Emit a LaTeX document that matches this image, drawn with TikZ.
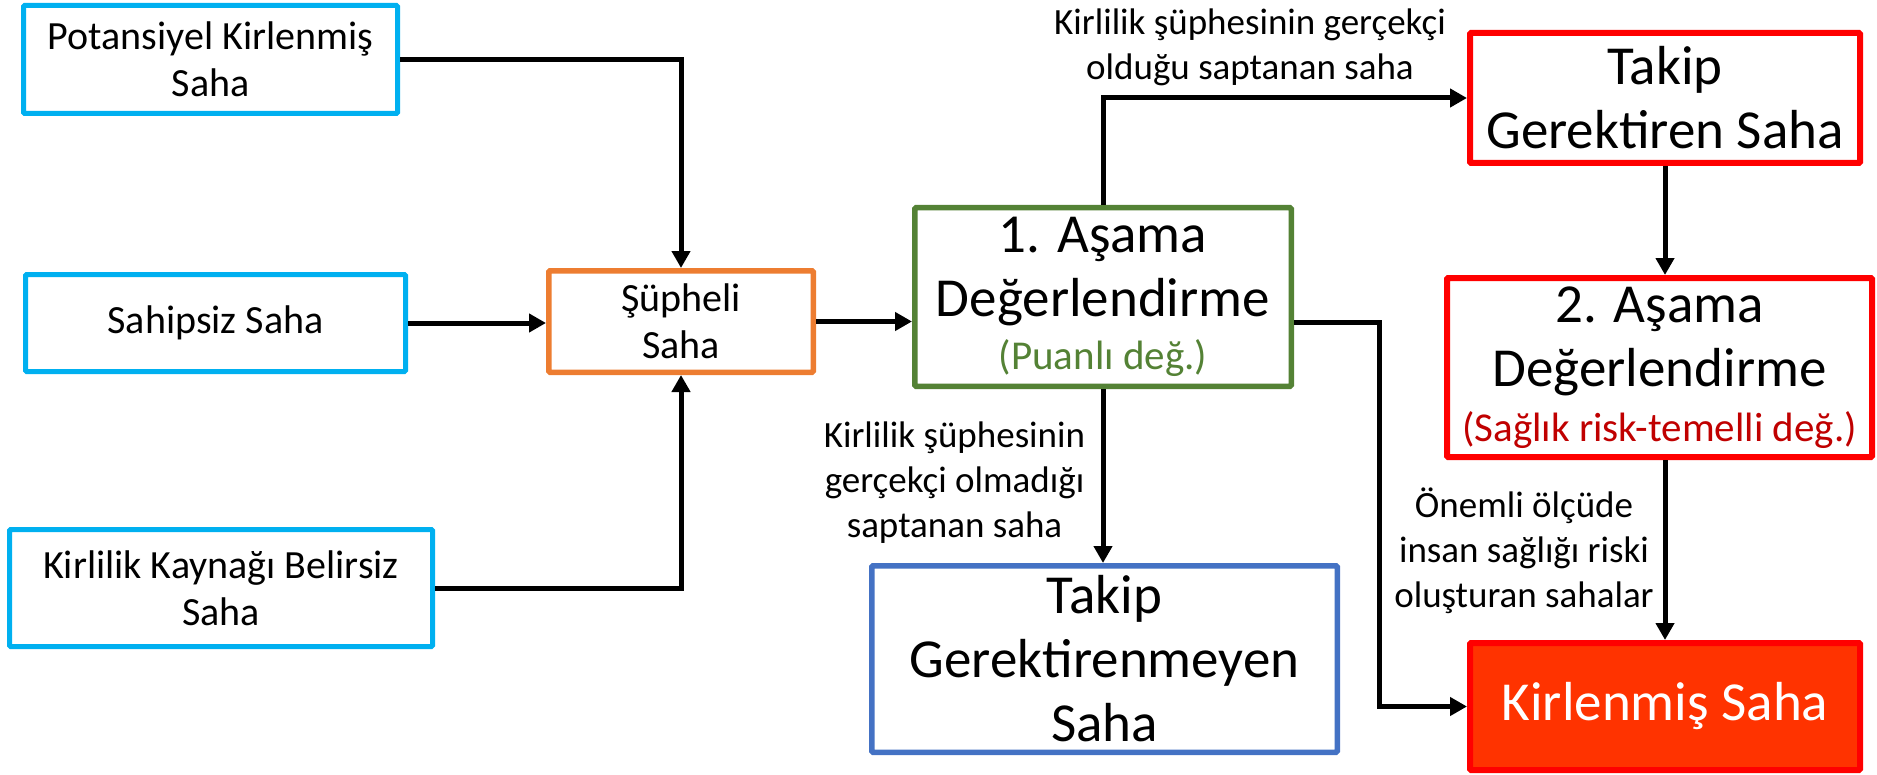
\documentclass[tikz,border=0pt]{standalone}
\usepackage{fontspec}
\setmainfont{Carlito}
\usetikzlibrary{arrows.meta}

\definecolor{cyanline}{HTML}{00B0F0}
\definecolor{orangeline}{HTML}{ED7D31}
\definecolor{greenline}{HTML}{548235}
\definecolor{blueline}{HTML}{4472C4}
\definecolor{redline}{HTML}{FF0000}
\definecolor{darkredtext}{HTML}{C00000}
\definecolor{alarmfill}{HTML}{FF3300}

\newcommand\fntbox{\fontsize{20}{23.5}\selectfont}
\newcommand\fntbig{\fontsize{27.5}{32}\selectfont}
\newcommand\fntsub{\fontsize{20.5}{25}\selectfont}
\newcommand\fntlbl{\fontsize{18.5}{22.5}\selectfont}

\tikzset{
  box/.style={draw, rectangle, rounded corners=0.6pt, align=center, inner sep=0pt, fill=white},
  sourcebox/.style={box, draw=cyanline, line width=2.5pt, font=\fntbox},
  suspectbox/.style={box, draw=orangeline, line width=2.75pt, font=\fntbox},
  stageone/.style={box, draw=greenline, line width=2.75pt, font=\fntbig},
  clearbox/.style={box, draw=blueline, line width=2.75pt, font=\fntbig},
  redbox/.style={box, draw=redline, line width=3pt, font=\fntbig},
  alarmbox/.style={redbox, fill=alarmfill, text=white},
  % labels are anchored at the baseline of their last line
  flowlabel/.style={align=center, inner sep=0pt, font=\fntlbl, anchor=base},
  arr/.style={draw=black, line width=2.5pt, -{Triangle[length=8.5pt, width=9pt]}}
}

\begin{document}
\begin{tikzpicture}[x=0.5pt, y=-0.5pt]
  \useasboundingbox (0,0) rectangle (1877,775);

  % source categories
  \node[sourcebox, minimum width=187pt, minimum height=54pt] (A) at (210.5,59.5)
    {Potansiyel Kirlenmiş\\Saha};
  \node[sourcebox, minimum width=190pt, minimum height=48.5pt] (B) at (215.5,323)
    {Sahipsiz Saha};
  \node[sourcebox, minimum width=211.5pt, minimum height=58.5pt] (C) at (221,588)
    {Kirlilik Kaynağı Belirsiz\\Saha};

  % suspected site
  \node[suspectbox, minimum width=132.25pt, minimum height=50.75pt] (S) at (681,321.5)
    {Şüpheli\\Saha};

  % first stage assessment
  \node[stageone, minimum width=188.25pt, minimum height=89.25pt] (G) at (1103,297)
    {1. Aşama\\Değerlendirme\\[-5.5pt]{\fntsub\color{greenline}(Puanlı değ.)}};

  % no follow-up needed
  \node[clearbox, minimum width=232.75pt, minimum height=93.25pt] (N) at (1104.5,659)
    {Takip\\Gerektirenmeyen\\Saha};

  % follow-up chain
  \node[redbox, minimum width=195pt, minimum height=65pt] (T) at (1665,98)
    {Takip\\Gerektiren Saha};
  \node[redbox, minimum width=212.5pt, minimum height=89.5pt] (Z) at (1659.5,367.5)
    {2. Aşama\\Değerlendirme\\[-4.5pt]{\fntsub\color{darkredtext}(Sağlık risk-temelli değ.)}};
  \node[alarmbox, minimum width=195pt, minimum height=63.5pt] (K) at (1665,706.5)
    {Kirlenmiş Saha};

  % bend point of the direct route to the contaminated site
  \coordinate (jx) at (1379,322);

  % connectors
  \draw[arr] (A.east) -| (S.north);
  \draw[arr] (B.east) -- (B.east -| S.west);
  \draw[arr] (C.east) -| (S.south);
  \draw[arr] (S.east) -- (S.east -| G.west);
  \draw[arr] (G.north) |- (T.west);
  \draw[arr] (G.south) -- (G.south |- N.north);
  \draw[arr] (G.east |- jx) -- (jx) |- (K.west);
  \draw[arr] (T.south) -- (T.south |- Z.north);
  \draw[arr] (Z.south -| K.north) -- (K.north);

  % connector labels
  \node[flowlabel] (L1) at (1250,80)
    {Kirlilik şüphesinin gerçekçi\\olduğu saptanan saha};
  \node[flowlabel] (L2) at (954.5,537)
    {Kirlilik şüphesinin\\gerçekçi olmadığı\\saptanan saha};
  \node[flowlabel] (L3) at (1524,607)
    {Önemli ölçüde\\insan sağlığı riski\\oluşturan sahalar};
\end{tikzpicture}
\end{document}
